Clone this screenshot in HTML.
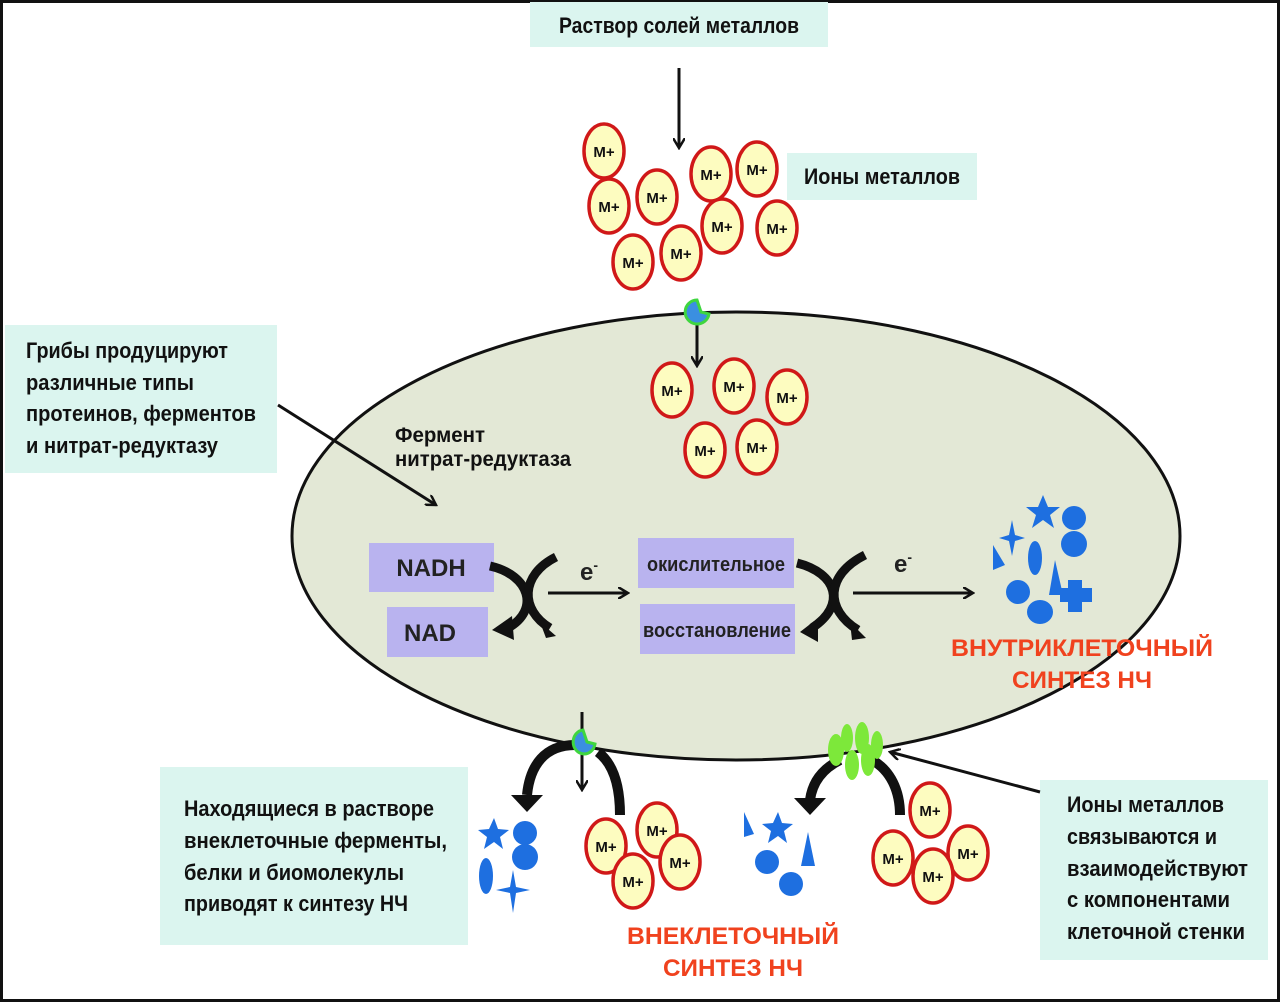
<!DOCTYPE html>
<html><head><meta charset="utf-8"><style>
html,body{margin:0;padding:0;background:#fff}
svg{display:block}
text{font-family:"Liberation Sans",sans-serif;font-weight:bold}
</style></head><body>
<svg width="1280" height="1002" viewBox="0 0 1280 1002" xmlns="http://www.w3.org/2000/svg">
<defs>
<marker id="ah" markerWidth="12" markerHeight="12" refX="10" refY="6" orient="auto" markerUnits="userSpaceOnUse">
<path d="M0,0 L10,6 L0,12" fill="none" stroke="#111" stroke-width="2.5"/>
</marker>
<g id="m">
<ellipse cx="0" cy="0" rx="20" ry="27" fill="#fdfcc0" stroke="#d01818" stroke-width="3.5"/>
<text x="0" y="6" font-size="15" text-anchor="middle" fill="#111">M+</text>
</g>
</defs>
<rect x="1.5" y="1.5" width="1277" height="999" fill="#fff" stroke="#111" stroke-width="3"/>
<!-- cell -->
<ellipse cx="736" cy="536" rx="444" ry="224" fill="#e3e8d6" stroke="#111" stroke-width="3"/>

<!-- boxes -->
<rect x="530" y="2" width="298" height="45" fill="#dbf5ef"/>
<text x="679" y="33" font-size="22" text-anchor="middle" textLength="240" lengthAdjust="spacingAndGlyphs" fill="#111">Раствор солей металлов</text>
<rect x="787" y="153" width="190" height="47" fill="#dbf5ef"/>
<text x="882" y="184" font-size="22" text-anchor="middle" textLength="156" lengthAdjust="spacingAndGlyphs" fill="#111">Ионы металлов</text>
<rect x="5" y="325" width="272" height="148" fill="#dbf5ef"/>
<g font-size="22" fill="#111">
<text x="26" y="358" textLength="202" lengthAdjust="spacingAndGlyphs">Грибы продуцируют</text>
<text x="26" y="390" textLength="168" lengthAdjust="spacingAndGlyphs">различные типы</text>
<text x="26" y="421" textLength="230" lengthAdjust="spacingAndGlyphs">протеинов, ферментов</text>
<text x="26" y="453" textLength="192" lengthAdjust="spacingAndGlyphs">и нитрат-редуктазу</text>
</g>
<rect x="160" y="767" width="308" height="178" fill="#dbf5ef"/>
<g font-size="22" fill="#111">
<text x="184" y="816" textLength="250" lengthAdjust="spacingAndGlyphs">Находящиеся в растворе</text>
<text x="184" y="848" textLength="263" lengthAdjust="spacingAndGlyphs">внеклеточные ферменты,</text>
<text x="184" y="880" textLength="220" lengthAdjust="spacingAndGlyphs">белки и биомолекулы</text>
<text x="184" y="911" textLength="224" lengthAdjust="spacingAndGlyphs">приводят к синтезу НЧ</text>
</g>
<rect x="1040" y="780" width="228" height="180" fill="#dbf5ef"/>
<g font-size="22" fill="#111">
<text x="1067" y="812" textLength="157" lengthAdjust="spacingAndGlyphs">Ионы металлов</text>
<text x="1067" y="844" textLength="150" lengthAdjust="spacingAndGlyphs">связываются и</text>
<text x="1067" y="876" textLength="181" lengthAdjust="spacingAndGlyphs">взаимодействуют</text>
<text x="1067" y="907" textLength="163" lengthAdjust="spacingAndGlyphs">с компонентами</text>
<text x="1067" y="939" textLength="178" lengthAdjust="spacingAndGlyphs">клеточной стенки</text>
</g>

<!-- arrows -->
<line x1="679" y1="68" x2="679" y2="148" stroke="#111" stroke-width="3" marker-end="url(#ah)"/>
<line x1="697" y1="320" x2="697" y2="366" stroke="#111" stroke-width="3" marker-end="url(#ah)"/>
<path d="M697,300 a12,12 0 1 0 12,14 l-8,-2 z" fill="#3b8fe0" stroke="#3fd63f" stroke-width="3"/>
<line x1="278" y1="405" x2="436" y2="505" stroke="#111" stroke-width="3" marker-end="url(#ah)"/>

<!-- ions -->
<g>
<use href="#m" x="604" y="151"/><use href="#m" x="711" y="174"/><use href="#m" x="757" y="169"/>
<use href="#m" x="609" y="206"/><use href="#m" x="657" y="197"/><use href="#m" x="722" y="226"/>
<use href="#m" x="777" y="228"/><use href="#m" x="633" y="262"/><use href="#m" x="681" y="253"/>
<use href="#m" x="672" y="390"/><use href="#m" x="734" y="386"/><use href="#m" x="787" y="397"/>
<use href="#m" x="705" y="450"/><use href="#m" x="757" y="447"/>
<use href="#m" x="606" y="846"/><use href="#m" x="657" y="830"/><use href="#m" x="680" y="862"/><use href="#m" x="633" y="881"/>
<use href="#m" x="930" y="810"/><use href="#m" x="893" y="858"/><use href="#m" x="968" y="853"/><use href="#m" x="933" y="876"/>
</g>

<text x="395" y="442" font-size="21" fill="#111" textLength="90" lengthAdjust="spacingAndGlyphs">Фермент</text>
<text x="395" y="466" font-size="21" fill="#111" textLength="176" lengthAdjust="spacingAndGlyphs">нитрат-редуктаза</text>

<!-- NADH -->
<rect x="369" y="543" width="125" height="49" fill="#b9b3ef"/>
<text x="431" y="576" font-size="24" text-anchor="middle" fill="#222">NADH</text>
<rect x="387" y="607" width="101" height="50" fill="#b9b3ef"/>
<text x="430" y="641" font-size="24" text-anchor="middle" fill="#222">NAD</text>
<rect x="638" y="538" width="156" height="50" fill="#b9b3ef"/>
<text x="716" y="571" font-size="20" text-anchor="middle" textLength="138" lengthAdjust="spacingAndGlyphs" fill="#222">окислительное</text>
<rect x="640" y="604" width="155" height="50" fill="#b9b3ef"/>
<text x="717" y="637" font-size="20" text-anchor="middle" textLength="148" lengthAdjust="spacingAndGlyphs" fill="#222">восстановление</text>

<!-- crossing arrows -->
<g fill="none" stroke="#111" stroke-width="9">
<path d="M490,566 C530,575 540,610 508,628"/>
<path d="M556,557 C520,575 520,610 550,628"/>
<path d="M797,563 C837,573 847,605 812,628"/>
<path d="M865,555 C825,575 825,610 858,630"/>
</g>
<g fill="#111">
<path d="M492,630 L512,616 L514,640 Z"/>
<path d="M556,636 L540,622 L546,638 Z"/>
<path d="M800,632 L818,618 L818,642 Z"/>
<path d="M866,638 L850,622 L852,640 Z"/>
</g>
<line x1="548" y1="593" x2="628" y2="593" stroke="#111" stroke-width="3" marker-end="url(#ah)"/>
<text x="580" y="580" font-size="24" fill="#222">e<tspan font-size="14" dy="-10">-</tspan></text>
<line x1="853" y1="593" x2="973" y2="593" stroke="#111" stroke-width="3" marker-end="url(#ah)"/>
<text x="894" y="572" font-size="24" fill="#222">e<tspan font-size="14" dy="-10">-</tspan></text>

<!-- intracellular shapes -->
<g fill="#1e6fe0">
<path d="M1012,520 l3,15 l10,3 l-10,3 l-3,15 l-3,-15 l-10,-3 l10,-3 z"/>
<path d="M1043,495 l5,12 l12,0 l-10,8 l4,13 l-11,-8 l-11,8 l4,-13 l-10,-8 l12,0 z"/>
<circle cx="1074" cy="518" r="12"/><circle cx="1074" cy="544" r="13"/>
<path d="M993,545 l12,20 l-12,5 z"/>
<ellipse cx="1035" cy="558" rx="7" ry="17"/>
<circle cx="1018" cy="592" r="12"/>
<path d="M1055,560 l8,35 l-14,0 z"/>
<ellipse cx="1040" cy="612" rx="13" ry="12"/>
<path d="M1068,580 h14 v8 h10 v14 h-10 v10 h-14 v-10 h-8 v-14 h8 z"/>
</g>
<text x="1082" y="656" font-size="24" text-anchor="middle" fill="#f0421e" textLength="262" lengthAdjust="spacingAndGlyphs">ВНУТРИКЛЕТОЧНЫЙ</text>
<text x="1082" y="688" font-size="24" text-anchor="middle" fill="#f0421e" textLength="140" lengthAdjust="spacingAndGlyphs">СИНТЕЗ НЧ</text>

<!-- bottom left release -->
<path d="M575,745 C545,745 530,765 527,795" fill="none" stroke="#111" stroke-width="10"/>
<path d="M511,795 L543,795 L527,812 Z" fill="#111"/>
<path d="M598,752 C615,765 620,790 620,815" fill="none" stroke="#111" stroke-width="10"/>
<line x1="582" y1="712" x2="582" y2="790" stroke="#111" stroke-width="3" marker-end="url(#ah)"/>
<path d="M583,730 a11,12 0 1 0 12,14 l-8,-2 z" fill="#3b8fe0" stroke="#3fd63f" stroke-width="3"/>
<g fill="#1e6fe0">
<path d="M494,818 l4,11 l11,1 l-9,7 l3,12 l-9,-7 l-10,7 l3,-12 l-9,-7 l11,-1 z"/>
<circle cx="525" cy="833" r="12"/><circle cx="525" cy="857" r="13"/>
<ellipse cx="486" cy="876" rx="7" ry="18"/>
<path d="M513,870 l3,17 l14,3 l-14,3 l-3,20 l-3,-20 l-14,-3 l14,-3 z"/>
</g>
<text x="733" y="944" font-size="24" text-anchor="middle" fill="#f0421e" textLength="212" lengthAdjust="spacingAndGlyphs">ВНЕКЛЕТОЧНЫЙ</text>
<text x="733" y="976" font-size="24" text-anchor="middle" fill="#f0421e" textLength="140" lengthAdjust="spacingAndGlyphs">СИНТЕЗ НЧ</text>

<!-- bottom right -->
<path d="M840,760 C820,770 812,785 810,800" fill="none" stroke="#111" stroke-width="10"/>
<path d="M794,798 L826,798 L810,815 Z" fill="#111"/>
<path d="M872,760 C890,770 900,790 900,815" fill="none" stroke="#111" stroke-width="10"/>
<g fill="#7de83a">
<ellipse cx="836" cy="750" rx="8" ry="16"/><ellipse cx="847" cy="738" rx="6" ry="14"/>
<ellipse cx="852" cy="765" rx="7" ry="15"/><ellipse cx="862" cy="738" rx="7" ry="16"/>
<ellipse cx="868" cy="760" rx="7" ry="16"/><ellipse cx="877" cy="745" rx="6" ry="14"/>
</g>
<line x1="1040" y1="792" x2="890" y2="752" stroke="#111" stroke-width="3" marker-end="url(#ah)"/>
<g fill="#1e6fe0">
<path d="M744,812 l10,22 l-10,3 z"/>
<path d="M778,812 l4,11 l11,1 l-9,7 l3,12 l-9,-7 l-10,7 l3,-12 l-9,-7 l11,-1 z"/>
<circle cx="767" cy="862" r="12"/><circle cx="791" cy="884" r="12"/>
<path d="M808,832 l7,34 l-14,0 z"/>
</g>
</svg>
</body></html>
